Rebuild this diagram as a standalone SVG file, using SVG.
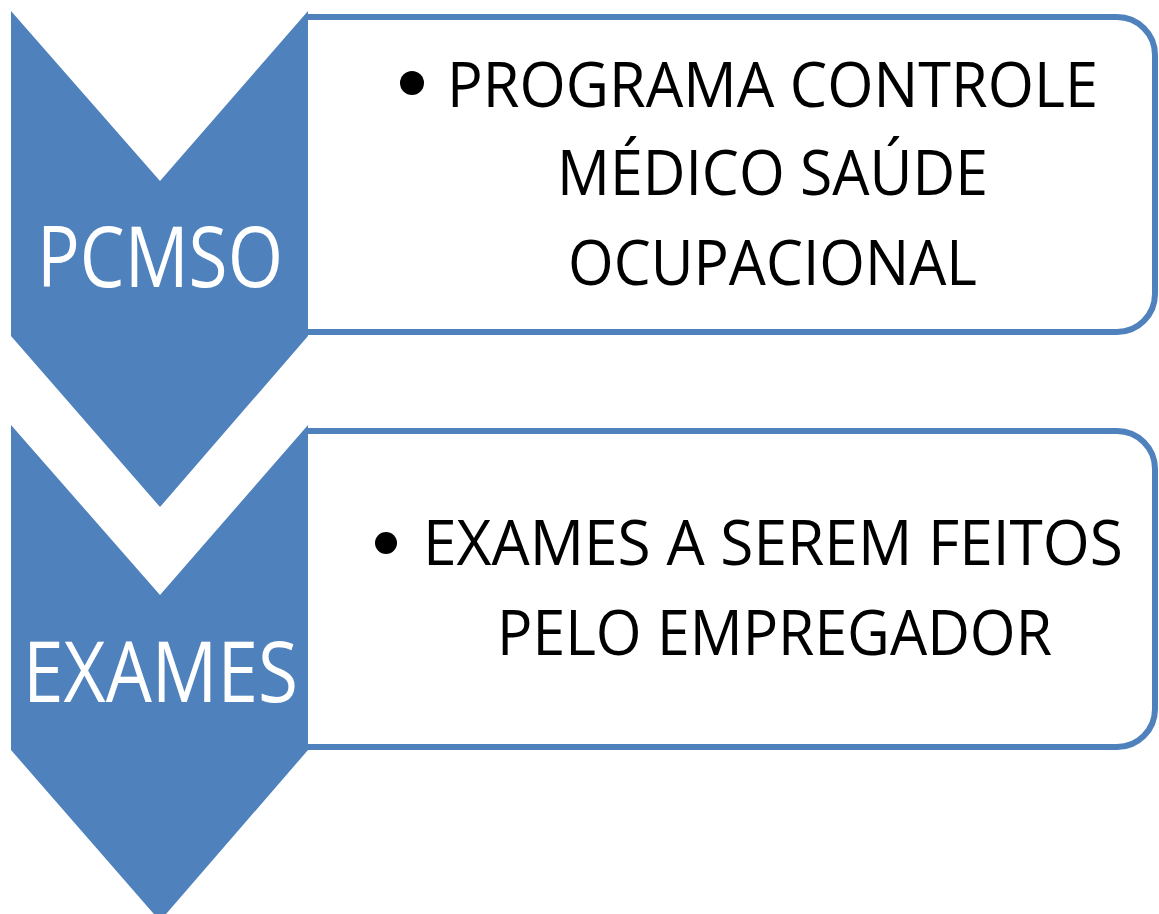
<svg xmlns="http://www.w3.org/2000/svg" width="1159" height="914" viewBox="0 0 1159 914">
<style>
.chev{fill:#4F81BD;}
.box{fill:#FFFFFF;stroke:#4F81BD;stroke-width:6;}
.lbl{font-family:"Open Sans","Liberation Sans",sans-serif;fill:#FFFFFF;font-size:85px;}
.txt{font-family:"Open Sans","Liberation Sans",sans-serif;fill:#000000;font-size:63px;}
.bul{fill:#000000;}
</style>
<rect width="1159" height="914" fill="#FFFFFF"/>
<g id="box1">
<path class="box" d="M308,17 H1117 A38,38 0 0 1 1155,55 V294 A38,38 0 0 1 1117,332 H308"/>
<circle class="bul" cx="412" cy="83" r="12"/>
<text class="txt" x="447" y="107" textLength="651" lengthAdjust="spacingAndGlyphs">PROGRAMA CONTROLE</text>
<text class="txt" x="557" y="195" textLength="431" lengthAdjust="spacingAndGlyphs">MÉDICO SAÚDE</text>
<text class="txt" x="568" y="285" textLength="409" lengthAdjust="spacingAndGlyphs">OCUPACIONAL</text>
</g>
<g id="box2">
<path class="box" d="M308,431 H1117 A38,38 0 0 1 1155,469 V709 A38,38 0 0 1 1117,747 H308"/>
<circle class="bul" cx="386" cy="543" r="11"/>
<text class="txt" x="423" y="565" textLength="700" lengthAdjust="spacingAndGlyphs">EXAMES A SEREM FEITOS</text>
<text class="txt" x="497" y="655" textLength="555" lengthAdjust="spacingAndGlyphs">PELO EMPREGADOR</text>
</g>
<g id="chevron1">
<polygon class="chev" points="11,11 160,181 308,11 308,336 160,507 11,336"/>
<text class="lbl" x="37" y="287" textLength="246" lengthAdjust="spacingAndGlyphs">PCMSO</text>
</g>
<g id="chevron2">
<polygon class="chev" points="11,425 160,595 308,425 308,750 160,921 11,750"/>
<text class="lbl" x="23" y="702" textLength="275" lengthAdjust="spacingAndGlyphs">EXAMES</text>
</g>
<g id="connectors"></g>
</svg>
